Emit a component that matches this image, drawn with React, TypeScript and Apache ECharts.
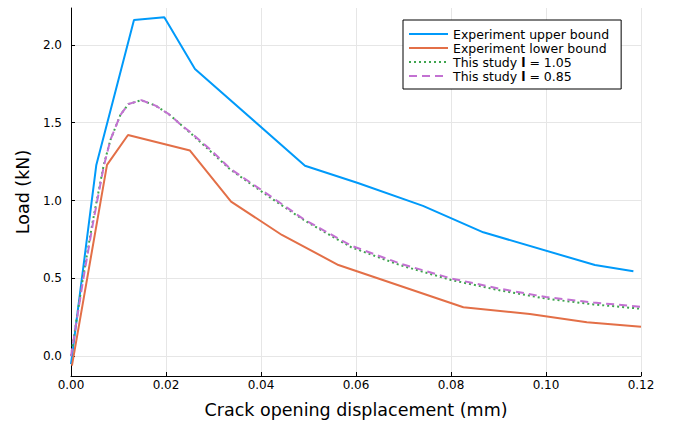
import React, { useEffect, useRef } from "react";
import * as echarts from "echarts";

const upperX = [0, 0.00533, 0.01326, 0.01964, 0.0261, 0.04926, 0.0604, 0.0741, 0.0868, 0.1103, 0.1184];
const upperY = [-0.05, 1.229, 2.16, 2.177, 1.845, 1.224, 1.113, 0.966, 0.796, 0.586, 0.546];

const lowerX = [0.0002, 0.00758, 0.012, 0.02505, 0.0337, 0.0444, 0.0563, 0.0826, 0.0966, 0.1086, 0.12];
const lowerY = [-0.06, 1.229, 1.421, 1.321, 0.993, 0.779, 0.586, 0.315, 0.272, 0.218, 0.19];

const simX = [0, 0.0025, 0.0046, 0.0069, 0.0083, 0.0104, 0.0121, 0.0148, 0.0178, 0.0206, 0.0234, 0.0251, 0.0296, 0.0335, 0.0419, 0.049, 0.059, 0.0693, 0.08, 0.09, 0.1, 0.11, 0.12];
const sim105Y = [0, 0.5, 0.87, 1.23, 1.39, 1.55, 1.62, 1.645, 1.61, 1.555, 1.48, 1.435, 1.31, 1.2, 1.02, 0.875, 0.7, 0.585, 0.49, 0.425, 0.37, 0.333, 0.305];
const sim085Y = [0, 0.48, 0.85, 1.22, 1.39, 1.55, 1.62, 1.645, 1.61, 1.555, 1.48, 1.44, 1.32, 1.205, 1.03, 0.88, 0.71, 0.595, 0.5, 0.435, 0.38, 0.345, 0.318];

const xTicks = [0, 0.02, 0.04, 0.06, 0.08, 0.1, 0.12];
const yTicks = [0, 0.5, 1.0, 1.5, 2.0];

const seriesNames = [
  "Experiment upper bound",
  "Experiment lower bound",
  "This study l = 1.05",
  "This study l = 0.85",
];

const zip = (xs: number[], ys: number[]) => xs.map((x, i) => [x, ys[i]]);

const FONT = "DejaVu Sans";

export default function App() {
  const ref = useRef<HTMLDivElement>(null);
  useEffect(() => {
    if (!ref.current) return;
    const chart = echarts.init(ref.current, null, { renderer: "svg" });
    const lineSeries = (name: string, data: number[][], color: string, type: any, width: number) => ({
      name,
      type: "line",
      data,
      showSymbol: false,
      symbol: "none",
      smooth: false,
      lineStyle: { color, width, type },
      itemStyle: { color },
      clip: true,
    });
    chart.setOption({
      animation: false,
      backgroundColor: "#ffffff",
      grid: { left: 71, right: 40, top: 8, bottom: 45, containLabel: false, outerBoundsMode: "none" },
      legend: {
        orient: "vertical",
        left: 403,
        top: 20,
        padding: [7, 12, 6, 5],
        itemWidth: 39,
        itemHeight: 14,
        itemGap: 0,
        borderColor: "#000",
        borderWidth: 1,
        borderRadius: 0,
        backgroundColor: "#fff",
        itemStyle: { opacity: 0 },
        data: seriesNames,
        formatter: (name: string) => {
          const m = name.match(/^This study l = (.*)$/);
          if (m) return `{a|This study }{b|l}{a| = ${m[1]}}`;
          return `{a|${name}}`;
        },
        textStyle: {
          fontFamily: FONT,
          fontSize: 12.5,
          lineHeight: 14,
          height: 14,
          color: "#000",
          rich: {
            a: { fontFamily: FONT, fontSize: 12.5, color: "#000", lineHeight: 14, height: 14 },
            b: { fontFamily: FONT, fontSize: 12.5, color: "#000", fontWeight: "bold", lineHeight: 14, height: 14 },
          },
        },
      },
      xAxis: {
        type: "value",
        min: 0,
        max: 0.12,
        interval: 0.02,
        name: "Crack opening displacement (mm)",
        nameLocation: "middle",
        nameGap: 25,
        nameTextStyle: { fontFamily: FONT, fontSize: 17.5, color: "#000" },
        axisLine: { show: true, onZero: false, lineStyle: { color: "#000", width: 1 } },
        axisTick: { show: true, inside: true, length: 4, lineStyle: { color: "#000" } },
        axisLabel: {
          fontFamily: FONT,
          fontSize: 12,
          color: "#000",
          margin: 3,
          formatter: (v: number) => v.toFixed(2),
        },
        splitLine: { show: true, lineStyle: { color: "#e6e6e6", width: 1 } },
      },
      yAxis: {
        type: "value",
        min: -0.127,
        max: 2.237,
        name: "Load (kN)",
        nameLocation: "middle",
        nameGap: 39,
        nameTextStyle: { fontFamily: FONT, fontSize: 17.5, color: "#000" },
        axisLine: { show: true, onZero: false, lineStyle: { color: "#000", width: 1 } },
        axisTick: { show: true, inside: true, length: 4, lineStyle: { color: "#000" }, customValues: yTicks },
        axisLabel: {
          fontFamily: FONT,
          fontSize: 12,
          color: "#000",
          margin: 9,
          customValues: yTicks,
          formatter: (v: number) => v.toFixed(1),
        },
        splitLine: { show: true, lineStyle: { color: "#e6e6e6", width: 1 } },
      },
      series: [
        lineSeries(seriesNames[0], zip(upperX, upperY), "#009AFA", "solid", 2),
        lineSeries(seriesNames[1], zip(lowerX, lowerY), "#E36F47", "solid", 2),
        lineSeries(seriesNames[2], zip(simX, sim105Y), "#3EA44E", [2, 3], 2),
        lineSeries(seriesNames[3], zip(simX, sim085Y), "#C371D2", [8, 5], 2),
      ],
    });
    return () => chart.dispose();
  }, []);
  return <div ref={ref} style={{ width: 681, height: 421, position: "absolute", left: 0, top: 0 }} />;
}
